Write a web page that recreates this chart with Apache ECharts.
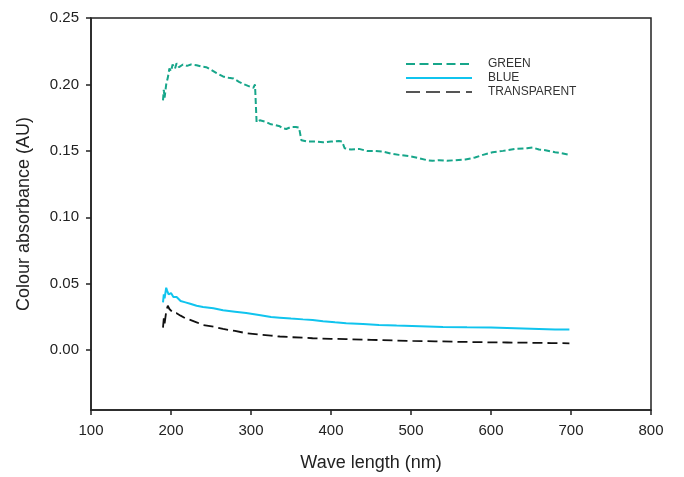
<!DOCTYPE html>
<html>
<head>
<meta charset="utf-8">
<script src="https://cdn.jsdelivr.net/npm/echarts@6/dist/echarts.min.js"></script>
<style>
  html, body { margin: 0; padding: 0; background: #fff; }
  #chart { width: 684px; height: 477px; }
</style>
</head>
<body>
<div id="chart"></div>
<script>
// wavelength (nm) / absorbance (AU)
const greenX = [190, 191, 192, 194, 196, 198, 200, 202, 205, 207, 210, 215, 220, 225, 232, 238, 244, 250, 257, 265, 272, 278, 285, 290, 294, 300, 303, 305, 306, 307, 311, 318, 325, 330, 336, 340, 344, 350, 356, 360, 363, 370, 380, 390, 400, 410, 414, 417, 425, 435, 445, 455, 465, 475, 485, 498, 510, 520, 527, 535, 545, 555, 568, 580, 590, 602, 615, 631, 645, 652, 660, 668, 680, 690, 698];
const greenY = [0.188, 0.196, 0.190, 0.200, 0.205, 0.212, 0.210, 0.215, 0.212, 0.216, 0.213, 0.215, 0.214, 0.215, 0.2145, 0.2135, 0.213, 0.211, 0.2085, 0.206, 0.205, 0.2045, 0.202, 0.2005, 0.1995, 0.198, 0.1975, 0.200, 0.199, 0.1715, 0.173, 0.172, 0.170, 0.1695, 0.1685, 0.167, 0.1665, 0.168, 0.168, 0.1675, 0.158, 0.157, 0.157, 0.1565, 0.157, 0.1575, 0.157, 0.152, 0.151, 0.1515, 0.150, 0.150, 0.1495, 0.148, 0.147, 0.146, 0.1445, 0.143, 0.1425, 0.143, 0.1425, 0.143, 0.1435, 0.145, 0.147, 0.149, 0.150, 0.1515, 0.152, 0.1525, 0.151, 0.1505, 0.149, 0.148, 0.147];

const blueX = [190, 191, 192, 194, 195, 197, 200, 203, 207, 212, 218, 224, 232, 240, 253, 265, 280, 294, 310, 325, 336, 350, 365, 377, 390, 405, 419, 440, 460, 482, 511, 540, 570, 600, 630, 660, 680, 698];
const blueY = [0.036, 0.042, 0.039, 0.047, 0.045, 0.042, 0.043, 0.040, 0.040, 0.037, 0.036, 0.035, 0.0335, 0.0325, 0.0315, 0.030, 0.029, 0.028, 0.0265, 0.025, 0.0245, 0.0238, 0.0232, 0.0228, 0.0218, 0.021, 0.0203, 0.0197, 0.019, 0.0185, 0.018, 0.0175, 0.0172, 0.017, 0.0165, 0.016, 0.0156, 0.0155];

const clearX = [190, 191, 192, 194, 196, 198, 200, 203, 207, 212, 218, 224, 232, 240, 253, 265, 280, 294, 310, 325, 336, 350, 365, 377, 400, 419, 450, 480, 502, 530, 560, 590, 620, 650, 675, 698];
const clearY = [0.017, 0.024, 0.020, 0.029, 0.0335, 0.031, 0.032, 0.028, 0.0278, 0.026, 0.024, 0.0228, 0.021, 0.019, 0.0178, 0.016, 0.0145, 0.0128, 0.0118, 0.011, 0.0103, 0.0098, 0.0094, 0.009, 0.0086, 0.0083, 0.0078, 0.0073, 0.007, 0.0067, 0.0063, 0.006, 0.0058, 0.0056, 0.0054, 0.0052];

const yTicks = [0, 0.05, 0.10, 0.15, 0.20, 0.25];
const xTicks = [100, 200, 300, 400, 500, 600, 700, 800];

const pairs = (xs, ys) => xs.map((x, i) => [x, ys[i]]);

var myChart = echarts.init(document.getElementById('chart'));
myChart.setOption({
  animation: false,
  textStyle: { fontFamily: 'Liberation Sans, Arial, sans-serif' },
  grid: {
    left: 91,
    right: 33,
    top: 18,
    bottom: 64,
    show: true,
    borderColor: '#222',
    borderWidth: 1.5
  },
  legend: {
    orient: 'vertical',
    left: 400,
    top: 53,
    itemWidth: 66,
    itemHeight: 12,
    itemGap: 2,
    itemStyle: { opacity: 0 },
    textStyle: { fontSize: 12, color: '#333', padding: [0, 0, 0, 11] },
    data: [
      { name: 'GREEN', lineStyle: { type: [9, 4.5], width: 2 } },
      { name: 'BLUE', lineStyle: { type: 'solid', width: 2 } },
      { name: 'TRANSPARENT', lineStyle: { type: [14, 6], width: 2, color: '#555' } }
    ]
  },
  xAxis: {
    type: 'value',
    min: 100,
    max: 800,
    interval: 100,
    name: 'Wave length (nm)',
    nameLocation: 'middle',
    nameGap: 44,
    nameTextStyle: { fontSize: 18, color: '#222' },
    splitLine: { show: false },
    axisLine: { onZero: false, lineStyle: { color: '#222', width: 1.5 } },
    axisTick: { inside: false, length: 5, lineStyle: { color: '#222', width: 1.5 } },
    axisLabel: {
      fontSize: 15, color: '#222', margin: 13,
      customValues: xTicks
    }
  },
  yAxis: {
    type: 'value',
    min: -0.045,
    max: 0.25,
    name: 'Colour absorbance (AU)',
    nameLocation: 'middle',
    nameGap: 58,
    nameTextStyle: { fontSize: 18, color: '#222' },
    splitLine: { show: false },
    axisLine: { show: true, onZero: false, lineStyle: { color: '#222', width: 1.5 } },
    axisTick: { show: true, inside: false, length: 5, lineStyle: { color: '#222', width: 1.5 }, customValues: yTicks },
    axisLabel: {
      fontSize: 15, color: '#222', margin: 12,
      customValues: yTicks,
      formatter: v => v.toFixed(2)
    }
  },
  series: [
    {
      name: 'GREEN',
      type: 'line',
      data: pairs(greenX, greenY),
      symbol: 'none',
      lineStyle: { color: '#17a68a', width: 2, type: [6, 3] },
      itemStyle: { color: '#17a68a' }
    },
    {
      name: 'BLUE',
      type: 'line',
      data: pairs(blueX, blueY),
      symbol: 'none',
      lineStyle: { color: '#10c4ee', width: 2 },
      itemStyle: { color: '#10c4ee' }
    },
    {
      name: 'TRANSPARENT',
      type: 'line',
      data: pairs(clearX, clearY),
      symbol: 'none',
      lineStyle: { color: '#111', width: 1.8, type: [10, 5] },
      itemStyle: { color: '#555' }
    }
  ]
});
</script>
</body>
</html>
